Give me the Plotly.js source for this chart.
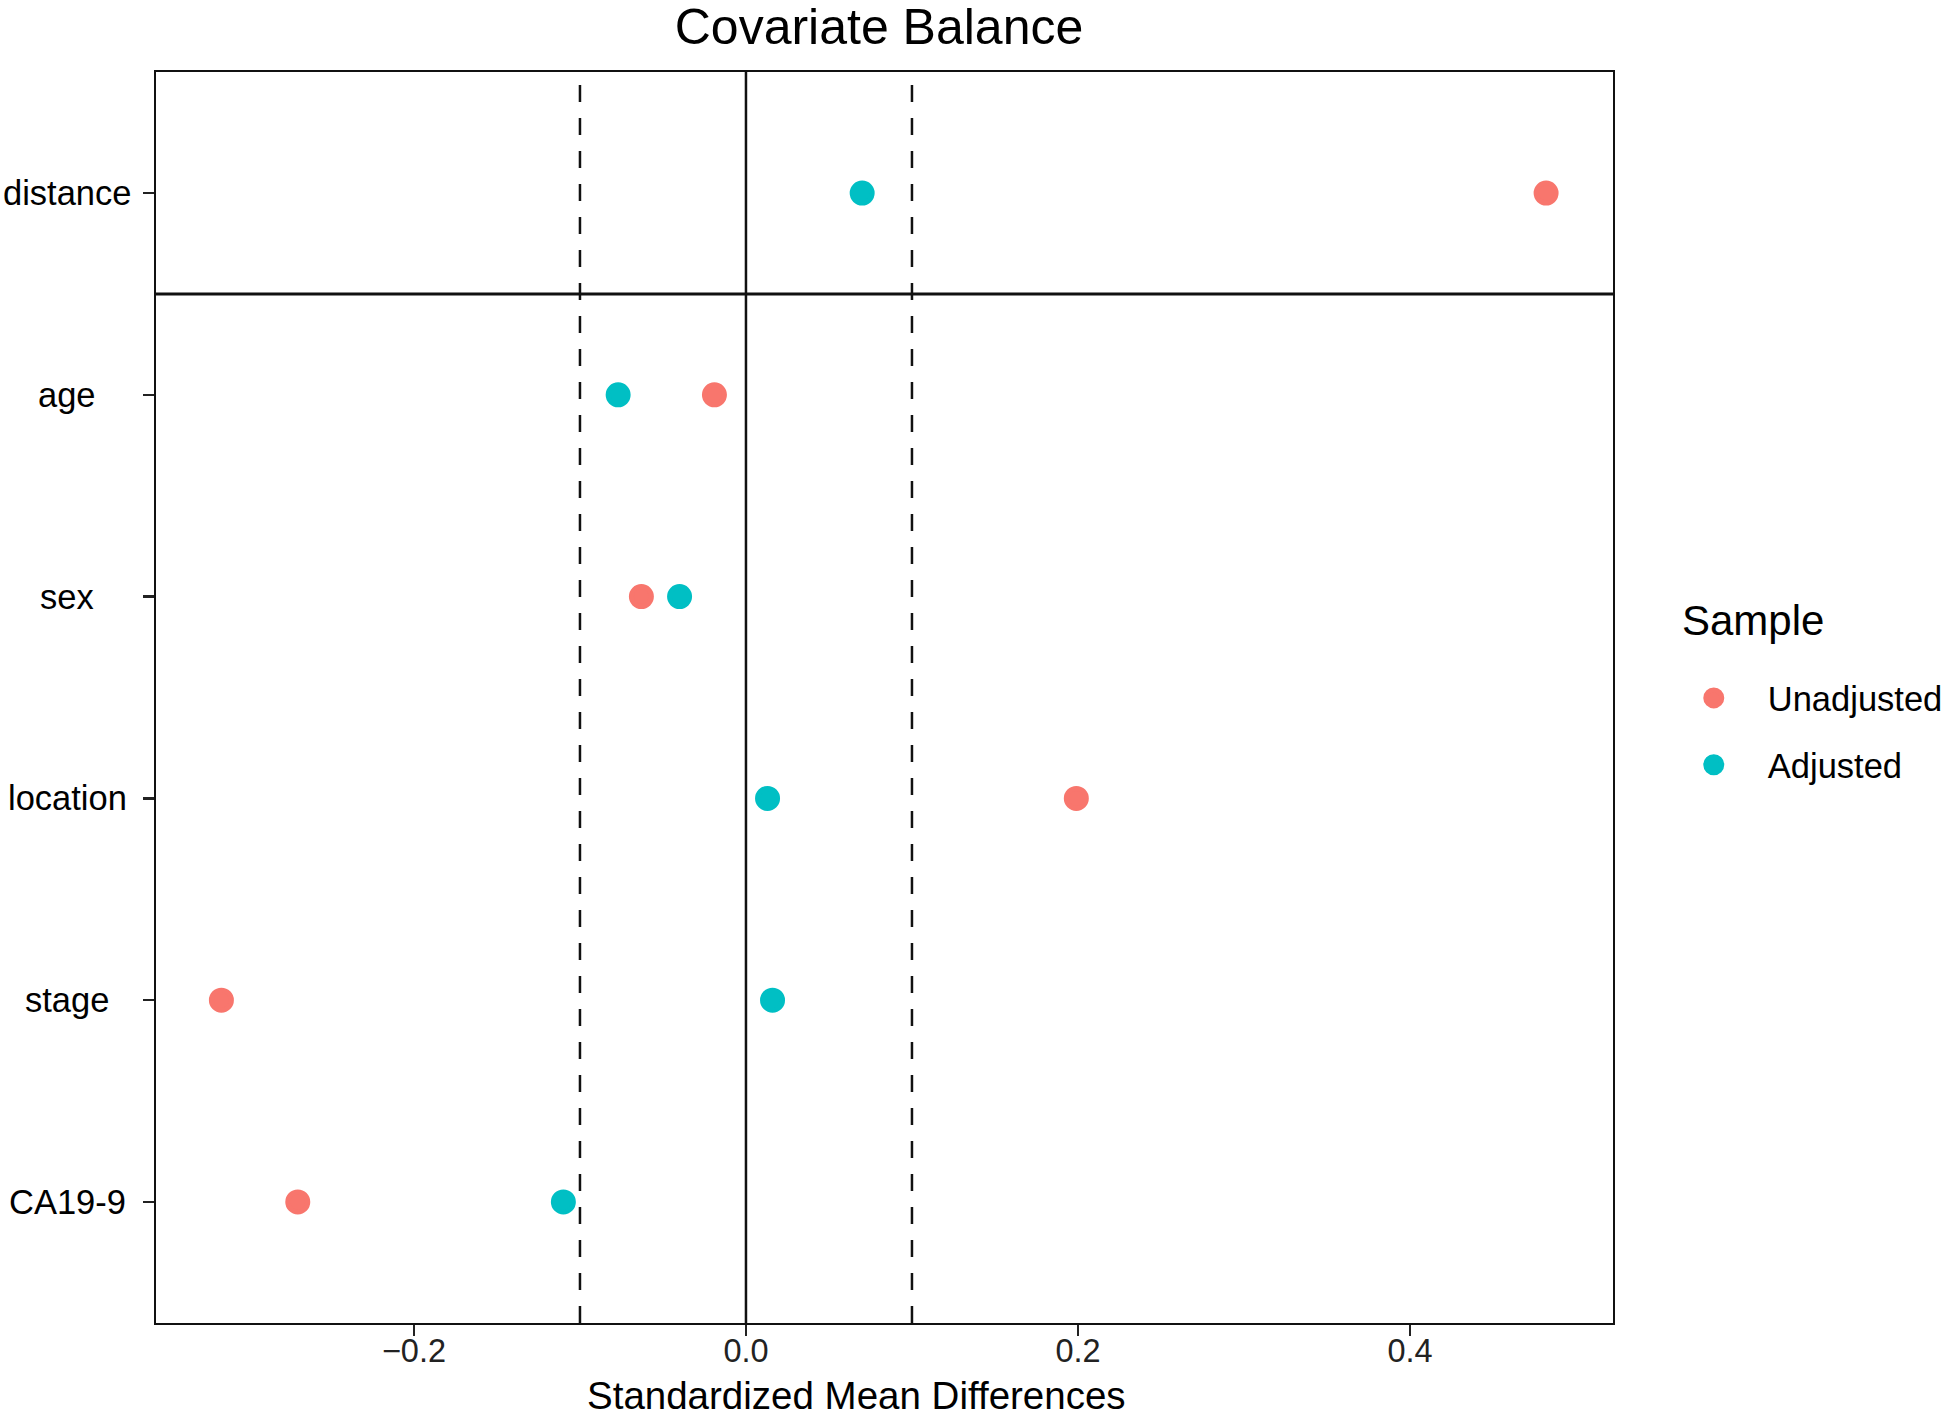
<!DOCTYPE html>
<html>
<head>
<meta charset="utf-8">
<script src="https://cdn.plot.ly/plotly-3.0.1.min.js"></script>
<style>
  html, body { margin: 0; padding: 0; background: #fff; }
  #chart { width: 1946px; height: 1418px; }
</style>
</head>
<body>
<div id="chart"></div>
<script>
const covariates = ["distance", "age", "sex", "location", "stage", "CA19-9"];
const unadjusted = [0.482, -0.019, -0.063, 0.199, -0.316, -0.270];
const adjusted = [0.070, -0.077, -0.040, 0.013, 0.016, -0.110];
const xTicks = [-0.2, 0.0, 0.2, 0.4];
const xTickText = ["\u22120.2", "0.0", "0.2", "0.4"];
const threshold = 0.1;

const font = "Liberation Sans, Arial, sans-serif";

// plot area in pixels, used to place the free texts
const plotL = 156, plotR = 1613, plotT = 72, plotB = 1323;
const px = (x) => (x - plotL) / (plotR - plotL);
const py = (y) => (plotB - y) / (plotB - plotT);

const makeTrace = (name, values, color, group) => ({
  name: name,
  x: values,
  y: covariates,
  type: "scatter",
  mode: "markers",
  legendgroup: group,
  marker: { color: color, size: 20, line: { color: color, width: 5 } },
  cliponaxis: false,
});

const vline = (x, dash) => ({
  type: "line",
  xref: "x",
  yref: "paper",
  x0: x,
  x1: x,
  y0: 0,
  y1: 1,
  layer: "below",
  line: { color: "#111", width: 2.5, dash: dash ? "17px,16px" : "solid" },
});

// y labels are centred like the original, so draw them as annotations on the y axis
const yLabels = covariates.map((c) => ({
  text: c,
  xref: "paper",
  yref: "y",
  x: px(67),
  y: c,
  xanchor: "center",
  yanchor: "middle",
  showarrow: false,
  font: { size: 34.5, color: "#000" },
}));

Plotly.newPlot(
  "chart",
  [
    makeTrace("Unadjusted", unadjusted, "#F8766D", "u"),
    makeTrace("Adjusted", adjusted, "#00BFC4", "a"),
  ],
  {
    width: 1946,
    height: 1418,
    margin: { l: plotL, r: 1946 - plotR, t: plotT, b: 1418 - plotB, autoexpand: false },
    paper_bgcolor: "#fff",
    plot_bgcolor: "#fff",
    font: { family: font, color: "#000", size: 34.5 },
    title: {
      text: "Covariate Balance",
      font: { size: 50, color: "#000" },
      x: 0.4517,
      xanchor: "center",
      y: 0.981,
      yanchor: "middle",
    },
    xaxis: {
      range: [-0.3554, 0.5223],
      tickvals: xTicks,
      ticktext: xTickText,
      ticks: "outside",
      ticklen: 11,
      tickwidth: 2.5,
      tickcolor: "#222",
      showgrid: false,
      zeroline: false,
      showline: true,
      mirror: true,
      linecolor: "#111",
      linewidth: 2,
      tickfont: { size: 32.5, color: "#222" },
      ticklabelstandoff: -13,
    },
    yaxis: {
      type: "category",
      categoryorder: "array",
      categoryarray: covariates,
      range: [5.6, -0.6],
      ticks: "outside",
      ticklen: 11,
      tickwidth: 2.5,
      tickcolor: "#222",
      showticklabels: false,
      showgrid: false,
      zeroline: false,
      showline: true,
      mirror: true,
      linecolor: "#111",
      linewidth: 2,
    },
    shapes: [
      vline(-threshold, true),
      vline(threshold, true),
      vline(0, false),
      {
        type: "line",
        xref: "paper",
        yref: "y",
        x0: 0,
        x1: 1,
        y0: 0.5,
        y1: 0.5,
        line: { color: "#111", width: 3 },
      },
    ],
    annotations: yLabels.concat([
      {
        text: "Standardized Mean Differences",
        xref: "paper",
        yref: "paper",
        x: px(856),
        y: py(1395),
        xanchor: "center",
        yanchor: "middle",
        showarrow: false,
        font: { size: 38.5, color: "#000" },
      },
      {
        text: "Sample",
        xref: "paper",
        yref: "paper",
        x: px(1680),
        y: py(620),
        xanchor: "left",
        yanchor: "middle",
        showarrow: false,
        font: { size: 42, color: "#000" },
      },
    ]),
    showlegend: true,
    legend: {
      x: 1.0321,
      xanchor: "left",
      y: 0.5228,
      yanchor: "top",
      traceorder: "grouped",
      tracegroupgap: 19,
      itemwidth: 98,
      font: { size: 34.5, color: "#000" },
      bgcolor: "rgba(0,0,0,0)",
      itemsizing: "trace",
    },
  },
  { staticPlot: true }
);
</script>
</body>
</html>
